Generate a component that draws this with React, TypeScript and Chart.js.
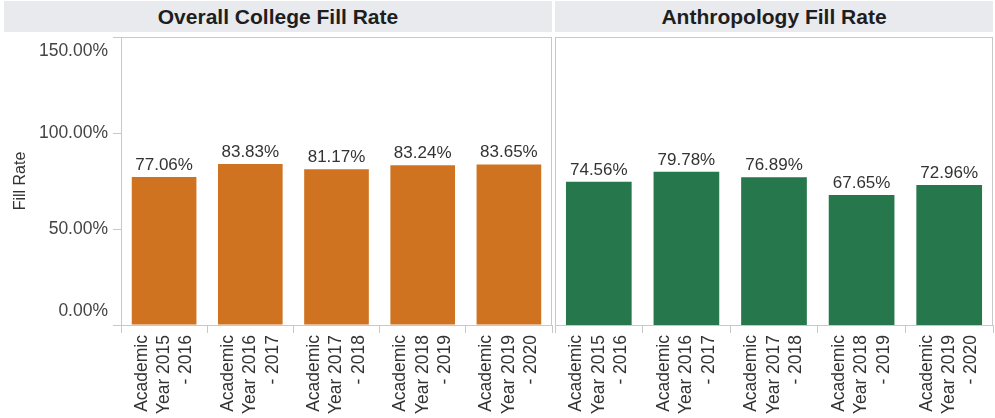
import React, { useEffect, useRef } from "react";
import { Chart, registerables } from "chart.js";

Chart.register(...registerables);

const categoryLabels: string[][] = [
  ["Academic", "Year 2015", "- 2016"],
  ["Academic", "Year 2016", "- 2017"],
  ["Academic", "Year 2017", "- 2018"],
  ["Academic", "Year 2018", "- 2019"],
  ["Academic", "Year 2019", "- 2020"],
];
const collegeFillRate = [77.06, 83.83, 81.17, 83.24, 83.65];
const anthropologyFillRate = [74.56, 79.78, 76.89, 67.65, 72.96];
const panelTitles = ["Overall College Fill Rate", "Anthropology Fill Rate"];
const yAxisTitle = "Fill Rate";
const yMin = 0;
const yMax = 150;
const yStep = 50;

const FONT = "Arial, 'Liberation Sans', Helvetica, sans-serif";
const GRID = "#c8c8c8";
const X_FONT_SIZE = 17.5;
const X_LINE_HEIGHT = 1.28;

const panelBorderPlugin = {
  id: "panelBorder",
  afterDatasetsDraw(chart: any) {
    const { left, top, right, bottom } = chart.chartArea;
    const ctx = chart.ctx;
    ctx.save();
    ctx.strokeStyle = GRID;
    ctx.lineWidth = 1;
    ctx.strokeRect(Math.round(left) + 0.5, Math.round(top) + 0.5, Math.round(right - left) - 1, Math.round(bottom - top));
    ctx.restore();
  },
};

const valueLabelPlugin = {
  id: "valueLabels",
  afterDatasetsDraw(chart: any) {
    const ctx = chart.ctx;
    const meta = chart.getDatasetMeta(0);
    const data = chart.data.datasets[0].data as number[];
    ctx.save();
    ctx.font = `17px ${FONT}`;
    ctx.fillStyle = "#333333";
    ctx.textAlign = "center";
    ctx.textBaseline = "alphabetic";
    meta.data.forEach((bar: any, i: number) => {
      ctx.fillText(data[i].toFixed(2) + "%", bar.x, bar.y - 7);
    });
    ctx.restore();
  },
};

function Panel(props: {
  values: number[];
  color: string;
  showY: boolean;
  left: number;
  width: number;
  padLeft: number;
  padRight: number;
}) {
  const ref = useRef<HTMLCanvasElement | null>(null);
  useEffect(() => {
    if (!ref.current) return;
    const lineCount = categoryLabels[0].length;
    const chart = new Chart(ref.current, {
      type: "bar",
      data: {
        labels: categoryLabels,
        datasets: [
          {
            data: props.values,
            backgroundColor: props.color,
            borderWidth: 0,
            barPercentage: 0.75,
            categoryPercentage: 1,
          },
        ],
      },
      options: {
        animation: false,
        responsive: true,
        maintainAspectRatio: false,
        layout: { padding: { top: 37, left: props.padLeft, right: props.padRight, bottom: 0 } },
        plugins: { legend: { display: false }, tooltip: { enabled: false }, title: { display: false } },
        scales: {
          x: {
            offset: true,
            afterFit: (s: any) => {
              s.height = 93;
              s.paddingLeft = 0;
              s.paddingRight = 0;
            },
            grid: { display: true, drawOnChartArea: false, offset: true, tickLength: 8, color: GRID },
            border: { display: true, color: GRID },
            ticks: {
              autoSkip: false,
              minRotation: 90,
              maxRotation: 90,
              padding: 2,
              labelOffset: -((lineCount - 1) * X_FONT_SIZE * X_LINE_HEIGHT) / 2,
              color: "#333333",
              font: { family: FONT, size: X_FONT_SIZE, lineHeight: X_LINE_HEIGHT },
            },
          },
          y: {
            display: props.showY,
            min: yMin,
            max: yMax,
            afterFit: (s: any) => {
              if (props.showY) s.width = 121;
            },
            grid: { display: true, drawOnChartArea: false, tickLength: 8, color: GRID },
            border: { display: true, color: GRID },
            title: {
              display: true,
              text: yAxisTitle,
              color: "#333333",
              font: { family: FONT, size: 16 },
              padding: { top: 11, bottom: 0 },
            },
            ticks: {
              stepSize: yStep,
              padding: 5,
              color: "#444444",
              font: { family: FONT, size: 17.5, lineHeight: 1.6 },
              callback: (v: any) => {
                const t = Number(v).toFixed(2) + "%";
                if (Number(v) === yMax) return ["", t];
                if (Number(v) === yMin) return [t, ""];
                return t;
              },
            },
          },
        },
      },
      plugins: [panelBorderPlugin, valueLabelPlugin],
    });
    return () => chart.destroy();
  }, []);
  return (
    <div style={{ position: "absolute", left: props.left, top: 0, width: props.width, height: 418 }}>
      <canvas ref={ref} />
    </div>
  );
}

const headerStyle: React.CSSProperties = {
  position: "absolute",
  top: 1,
  height: 31,
  lineHeight: "31px",
  background: "#e9eaee",
  color: "#1e1e1e",
  fontFamily: FONT,
  fontWeight: "bold",
  fontSize: 21,
  textAlign: "center",
  zIndex: 2,
};

export default function App() {
  return (
    <div style={{ position: "fixed", left: 0, top: 0, width: 995, height: 418, background: "#ffffff", overflow: "hidden" }}>
      <Panel values={collegeFillRate} color="#cf7320" showY={true} left={0} width={553} padLeft={0} padRight={1} />
      <Panel values={anthropologyFillRate} color="#27774d" showY={false} left={553} width={442} padLeft={2} padRight={2} />
      <div style={{ ...headerStyle, left: 4, width: 548 }}>{panelTitles[0]}</div>
      <div style={{ ...headerStyle, left: 555, width: 438 }}>{panelTitles[1]}</div>
    </div>
  );
}
